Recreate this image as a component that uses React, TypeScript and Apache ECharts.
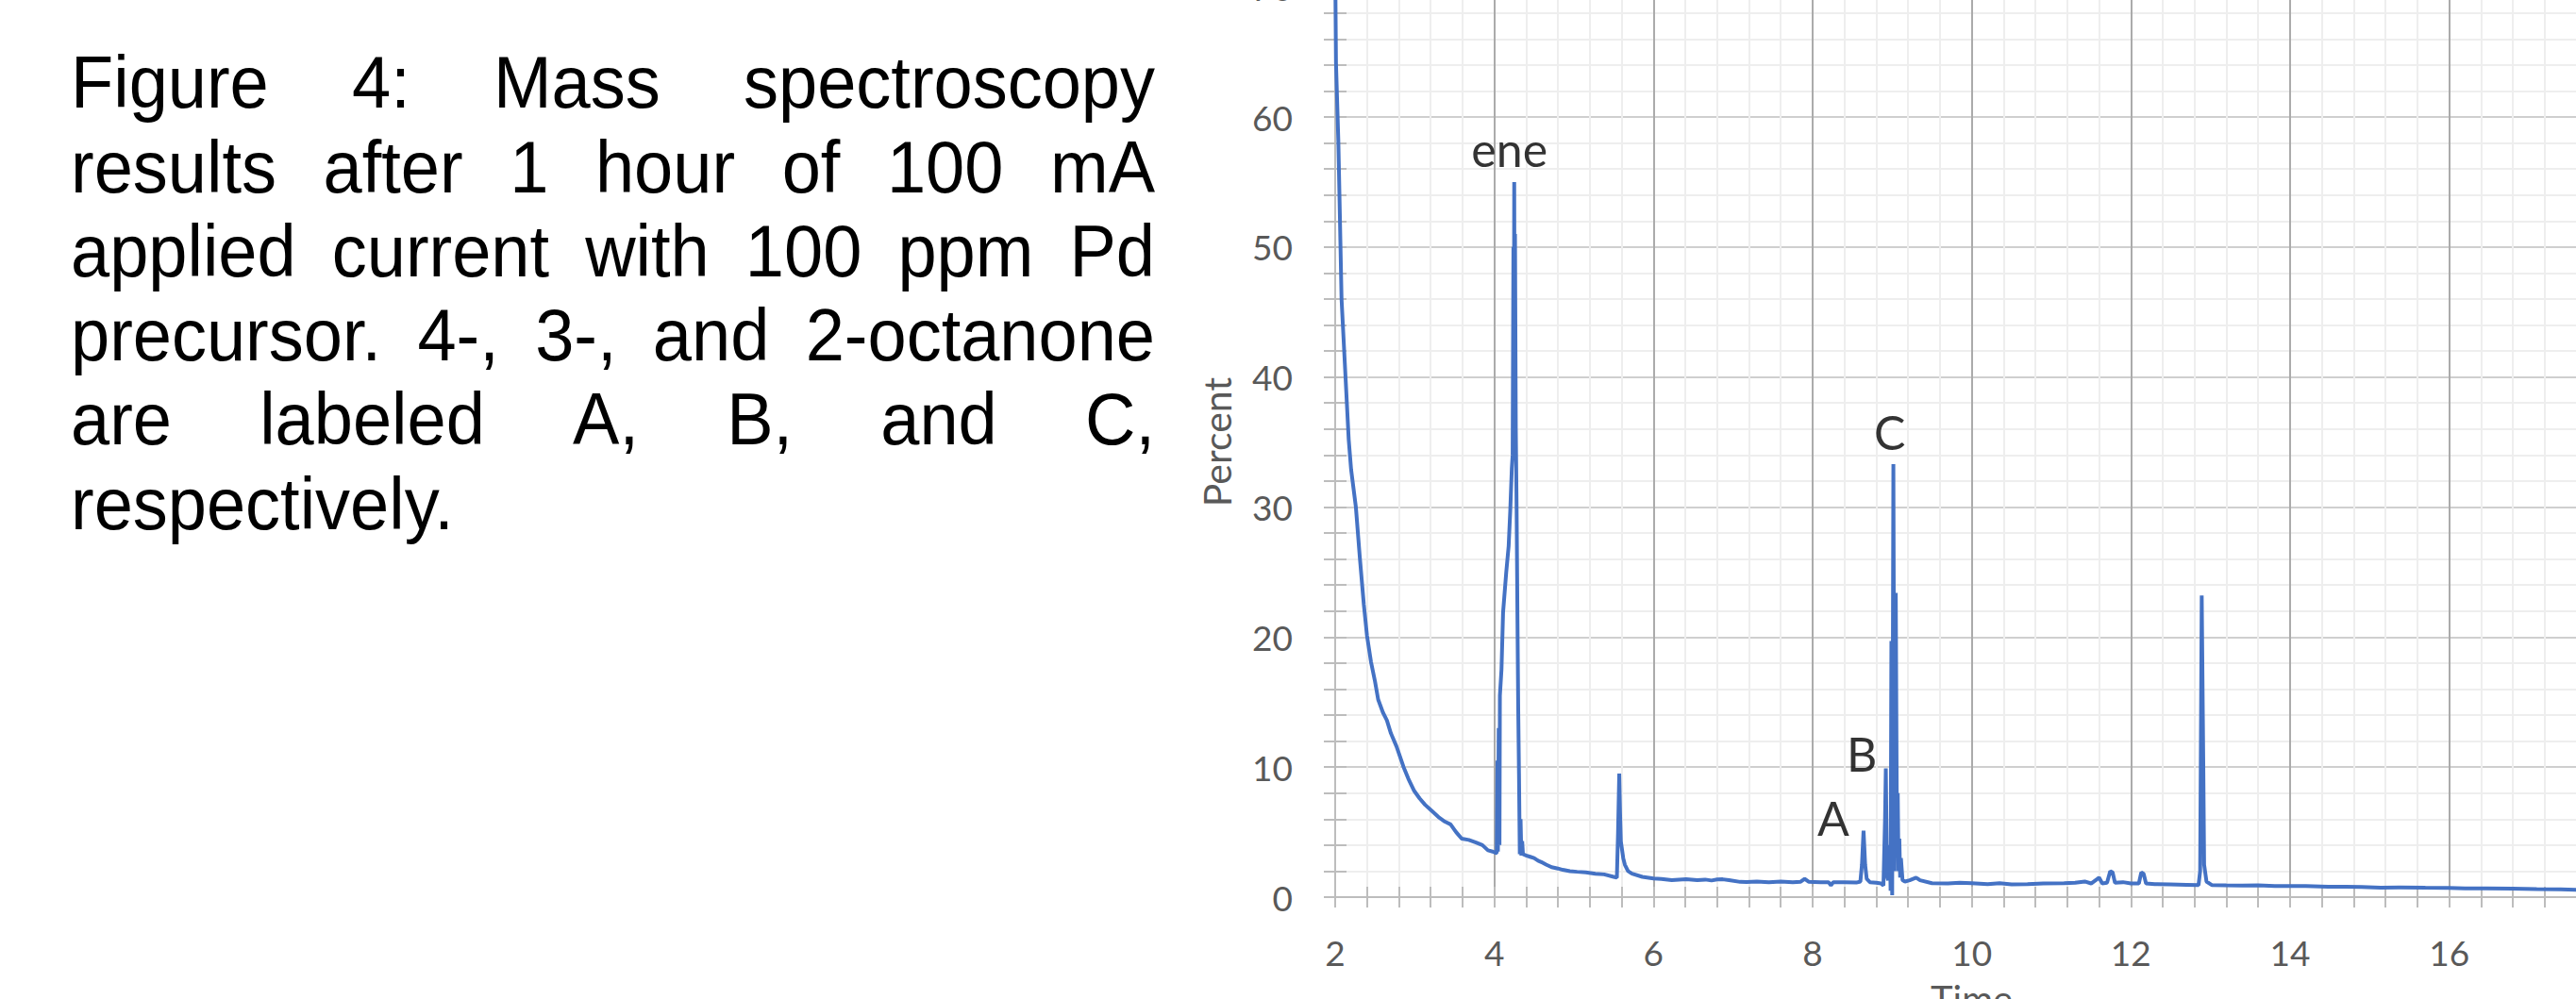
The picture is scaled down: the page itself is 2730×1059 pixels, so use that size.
import React, { useEffect, useRef } from "react";
import * as echarts from "echarts";

// ---- data ----
const times = [
  2.0, 2.01, 2.04, 2.06, 2.08, 2.13, 2.17, 2.2, 2.26, 2.31, 2.36, 2.4, 2.45, 2.5, 2.54, 2.6, 2.65, 2.7, 2.77, 2.86,
  2.92, 2.99, 3.06, 3.13, 3.22, 3.31, 3.38, 3.45, 3.52, 3.59, 3.68, 3.77, 3.85, 3.92, 3.98, 4.02,
  4.03, 4.04, 4.045, 4.055, 4.065, 4.07, 4.09, 4.11, 4.15, 4.18, 4.2, 4.22, 4.23, 4.24, 4.245, 4.25, 4.255, 4.26,
  4.27, 4.28, 4.29, 4.3, 4.31, 4.32, 4.33, 4.34, 4.35, 4.36, 4.4, 4.45, 4.5, 4.55, 4.59, 4.65, 4.72, 4.8, 4.86,
  4.95, 5.04, 5.15, 5.27, 5.38, 5.5, 5.54, 5.555, 5.57, 5.58, 5.59, 5.62, 5.64, 5.68, 5.73, 5.86, 6.0, 6.1, 6.23,
  6.32, 6.41, 6.55, 6.65, 6.73, 6.8, 6.87, 6.95, 7.09, 7.17, 7.3, 7.45, 7.6, 7.75, 7.85, 7.9, 7.95, 8.1, 8.2, 8.23,
  8.26, 8.4, 8.55, 8.6, 8.62, 8.64, 8.66, 8.68, 8.72, 8.8, 8.86, 8.89, 8.91, 8.92, 8.93, 8.94, 8.95, 8.97, 8.98,
  8.99, 9.0, 9.015, 9.03, 9.045, 9.06, 9.07, 9.08, 9.09, 9.1, 9.11, 9.13, 9.16, 9.22, 9.3, 9.35, 9.5, 9.7, 9.85,
  10.0, 10.2, 10.35, 10.5, 10.7, 10.9, 11.16, 11.3, 11.42, 11.5, 11.6, 11.64, 11.7, 11.74, 11.77, 11.8, 11.9, 12.0,
  12.1, 12.13, 12.16, 12.19, 12.3, 12.49, 12.7, 12.85, 12.87, 12.89, 12.91, 12.92, 12.95, 13.02, 13.2, 13.4, 13.6,
  13.81, 14.0, 14.2, 14.48, 14.7, 14.9, 15.14, 15.4, 15.7, 16.0, 16.2, 16.47, 16.8, 17.1, 17.4, 17.7, 18.0,
];
const percents = [
  72, 64.2, 58.1, 52.1, 46, 40, 35.2, 32.9, 30, 26.1, 22.5, 20.1, 18.1, 16.6, 15.2, 14.2, 13.6, 12.6, 11.6, 10,
  9.1, 8.2, 7.6, 7.1, 6.6, 6.1, 5.8, 5.6, 5.0, 4.5, 4.4, 4.2, 4.0, 3.6, 3.5, 3.4,
  3.4, 10.5, 3.5, 13.0, 4.0, 15.5, 17.5, 21.9, 25, 27, 29.7, 33, 34, 50, 38, 55, 42, 51,
  36, 30, 22, 14.7, 9.5, 3.3, 6, 3.2, 4.3, 3.3, 3.2, 3.1, 3.0, 2.8, 2.7, 2.5, 2.3, 2.2, 2.1,
  2.0, 1.95, 1.9, 1.8, 1.75, 1.56, 1.5, 5, 9.5, 6.5, 4.3, 3.0, 2.5, 2.0, 1.8, 1.56, 1.43, 1.4, 1.3,
  1.35, 1.37, 1.3, 1.35, 1.28, 1.36, 1.37, 1.3, 1.17, 1.16, 1.2, 1.15, 1.2, 1.15, 1.18, 1.4, 1.18, 1.15, 1.15, 0.9,
  1.15, 1.15, 1.12, 1.2, 2.5, 5.1, 2.5, 1.4, 1.15, 1.1, 1.05, 0.9, 6, 9.9, 4, 1.5, 1.3, 4, 0.5,
  19.7, 0.15, 33.3, 2.0, 23.4, 4.0, 8, 2.0, 4.5, 1.5, 3.0, 1.3, 1.2, 1.3, 1.5, 1.3, 1.07, 1.05, 1.1,
  1.07, 1.0, 1.07, 0.98, 1.0, 1.05, 1.07, 1.1, 1.2, 1.05, 1.5, 1.05, 1.1, 2.0, 1.9, 1.1, 1.15, 1.05,
  1.05, 1.9, 1.8, 1.05, 1.0, 0.98, 0.95, 0.92, 2.0, 23.2, 10, 2.5, 1.2, 0.92, 0.9, 0.88, 0.9,
  0.86, 0.85, 0.85, 0.8, 0.8, 0.78, 0.73, 0.75, 0.72, 0.7, 0.68, 0.67, 0.65, 0.62, 0.6, 0.55, 0.52,
];

const peakLabels = ["ene", "A", "B", "C"];
const peakLabelTimes = [4.19, 8.26, 8.62, 8.97];
const peakLabelPercents = [57.5, 6.1, 11.0, 35.8];

const xMin = 2;
const xMax = 18;
const xStep = 2;
const yMin = 0;
const yMax = 70;
const yStep = 10;

const xAxisTitle = "Time";
const yAxisTitle = "Percent";

const captionLines = [
  "Figure 4: Mass spectroscopy",
  "results after 1 hour of 100 mA",
  "applied current with 100 ppm Pd",
  "precursor. 4-, 3-, and 2-octanone",
  "are labeled A, B, and C,",
  "respectively.",
];

// ---- layout ----
const OFFSET = 100;
const CHART_W = 2900;
const CHART_H = 1300;
const PLOT_X0 = 1415;
const PLOT_Y0 = 951;
const PX_PER_X = 84.33;
const PX_PER_Y = 13.783;

const CAPTION_LEFT = 75;
const CAPTION_RIGHT = 1224;
const CAPTION_FONT_SIZE = 74;
const CAPTION_SCALE_Y = 1.06;
const CAPTION_FONT = "'Liberation Sans', Arial, sans-serif";
const CAPTION_CENTERS = [87, 177, 266, 355, 444, 534];

const AXIS_FONT = "Lato, 'Open Sans', sans-serif";

function measure(text: string, font: string): number {
  const c = document.createElement("canvas");
  const ctx = c.getContext("2d")!;
  ctx.font = font;
  return ctx.measureText(text).width;
}

function buildCaption(): any[] {
  const els: any[] = [];
  const fontStr = `${CAPTION_FONT_SIZE}px ${CAPTION_FONT}`;
  captionLines.forEach((line, li) => {
    const words = line.split(" ");
    const y = CAPTION_CENTERS[li] + OFFSET;
    const justify = li < captionLines.length - 1;
    const widths = words.map((w) => measure(w, fontStr));
    const total = widths.reduce((a, b) => a + b, 0);
    const spaceW = measure(" ", fontStr);
    const gap = justify && words.length > 1 ? (CAPTION_RIGHT - CAPTION_LEFT - total) / (words.length - 1) : spaceW;
    let x = CAPTION_LEFT;
    words.forEach((w, wi) => {
      els.push({
        type: "text",
        x,
        y,
        scaleY: CAPTION_SCALE_Y,
        style: {
          text: w,
          x: 0,
          y: 0,
          fontSize: CAPTION_FONT_SIZE,
          fontFamily: CAPTION_FONT,
          fill: "#000",
          align: "left",
          verticalAlign: "middle",
        },
      });
      x += widths[wi] + gap;
    });
  });
  return els;
}

export default function App() {
  const ref = useRef<HTMLDivElement>(null);
  useEffect(() => {
    const el = ref.current;
    if (!el) return;
    const chart = echarts.init(el, null, { renderer: "svg" });
    const gridTop = OFFSET + PLOT_Y0 - (yMax - yMin) * PX_PER_Y;
    const gridH = (yMax - yMin) * PX_PER_Y;
    const gridW = (xMax - xMin) * PX_PER_X;
    const axisGray = "#bdbdbd";
    const baseX = {
      type: "value",
      min: xMin,
      max: xMax,
      interval: xStep,
      position: "bottom",
    };
    const baseY = {
      type: "value",
      min: yMin,
      max: yMax,
      interval: yStep,
      position: "left",
    };
    const option: any = {
      animation: false,
      backgroundColor: "#fff",
      grid: { left: PLOT_X0, top: gridTop, width: gridW, height: gridH, containLabel: false },
      xAxis: [
        {
          ...baseX,
          name: xAxisTitle,
          nameLocation: "middle",
          nameGap: 88,
          nameTextStyle: { fontFamily: AXIS_FONT, fontSize: 40, color: "#595959", verticalAlign: "top" },
          axisLine: { show: true, lineStyle: { color: axisGray, width: 2 } },
          axisTick: { show: true, inside: false, length: 11, lineStyle: { color: axisGray, width: 2 } },
          minorTick: { show: true, splitNumber: 5, length: 11, lineStyle: { color: axisGray, width: 2 } },
          axisLabel: { margin: 40, fontFamily: AXIS_FONT, fontSize: 37, color: "#595959" },
          splitLine: { show: true, lineStyle: { color: "#ababab", width: 2 } },
          minorSplitLine: { show: true, lineStyle: { color: "#eeeeee", width: 2 } },
        },
        {
          ...baseX,
          axisLine: { show: false },
          axisTick: { show: true, inside: true, length: 11, lineStyle: { color: axisGray, width: 2 } },
          minorTick: { show: true, splitNumber: 5, length: 11, lineStyle: { color: axisGray, width: 2 } },
          axisLabel: { show: false },
          splitLine: { show: false },
        },
      ],
      yAxis: [
        {
          ...baseY,
          name: yAxisTitle,
          nameLocation: "middle",
          nameGap: 105,
          nameRotate: 90,
          nameTextStyle: { fontFamily: AXIS_FONT, fontSize: 41, color: "#595959" },
          axisLine: { show: true, lineStyle: { color: axisGray, width: 2 } },
          axisTick: { show: true, inside: false, length: 12, lineStyle: { color: axisGray, width: 2 } },
          minorTick: { show: true, splitNumber: 5, length: 12, lineStyle: { color: axisGray, width: 2 } },
          axisLabel: { margin: 45, fontFamily: AXIS_FONT, fontSize: 37, color: "#595959" },
          splitLine: { show: true, lineStyle: { color: "#cfcfcf", width: 2 } },
          minorSplitLine: { show: true, lineStyle: { color: "#eeeeee", width: 2 } },
        },
        {
          ...baseY,
          axisLine: { show: false },
          axisTick: { show: true, inside: true, length: 12, lineStyle: { color: axisGray, width: 2 } },
          minorTick: { show: true, splitNumber: 5, length: 12, lineStyle: { color: axisGray, width: 2 } },
          axisLabel: { show: false },
          splitLine: { show: false },
        },
      ],
      series: [
        {
          type: "line",
          xAxisIndex: 0,
          yAxisIndex: 0,
          data: times.map((t, i) => [t, percents[i]]),
          showSymbol: false,
          symbol: "none",
          clip: true,
          lineStyle: { color: "#4472C4", width: 4 },
          z: 5,
        },
        {
          type: "scatter",
          xAxisIndex: 0,
          yAxisIndex: 0,
          symbolSize: 0,
          data: peakLabels.map((n, i) => ({ name: n, value: [peakLabelTimes[i], peakLabelPercents[i]] })),
          label: {
            show: true,
            position: "inside",
            formatter: (p: any) => p.name,
            fontFamily: AXIS_FONT,
            fontSize: 50,
            color: "#000",
          },
          z: 6,
        },
      ],
      graphic: buildCaption(),
    };
    chart.setOption(option);
    return () => chart.dispose();
  }, []);
  return (
    <div
      style={{
        position: "fixed",
        left: 0,
        top: 0,
        width: 2730,
        height: 1059,
        overflow: "hidden",
        background: "#fff",
      }}
    >
      <div ref={ref} style={{ position: "absolute", left: 0, top: -OFFSET, width: CHART_W, height: CHART_H }} />
    </div>
  );
}
